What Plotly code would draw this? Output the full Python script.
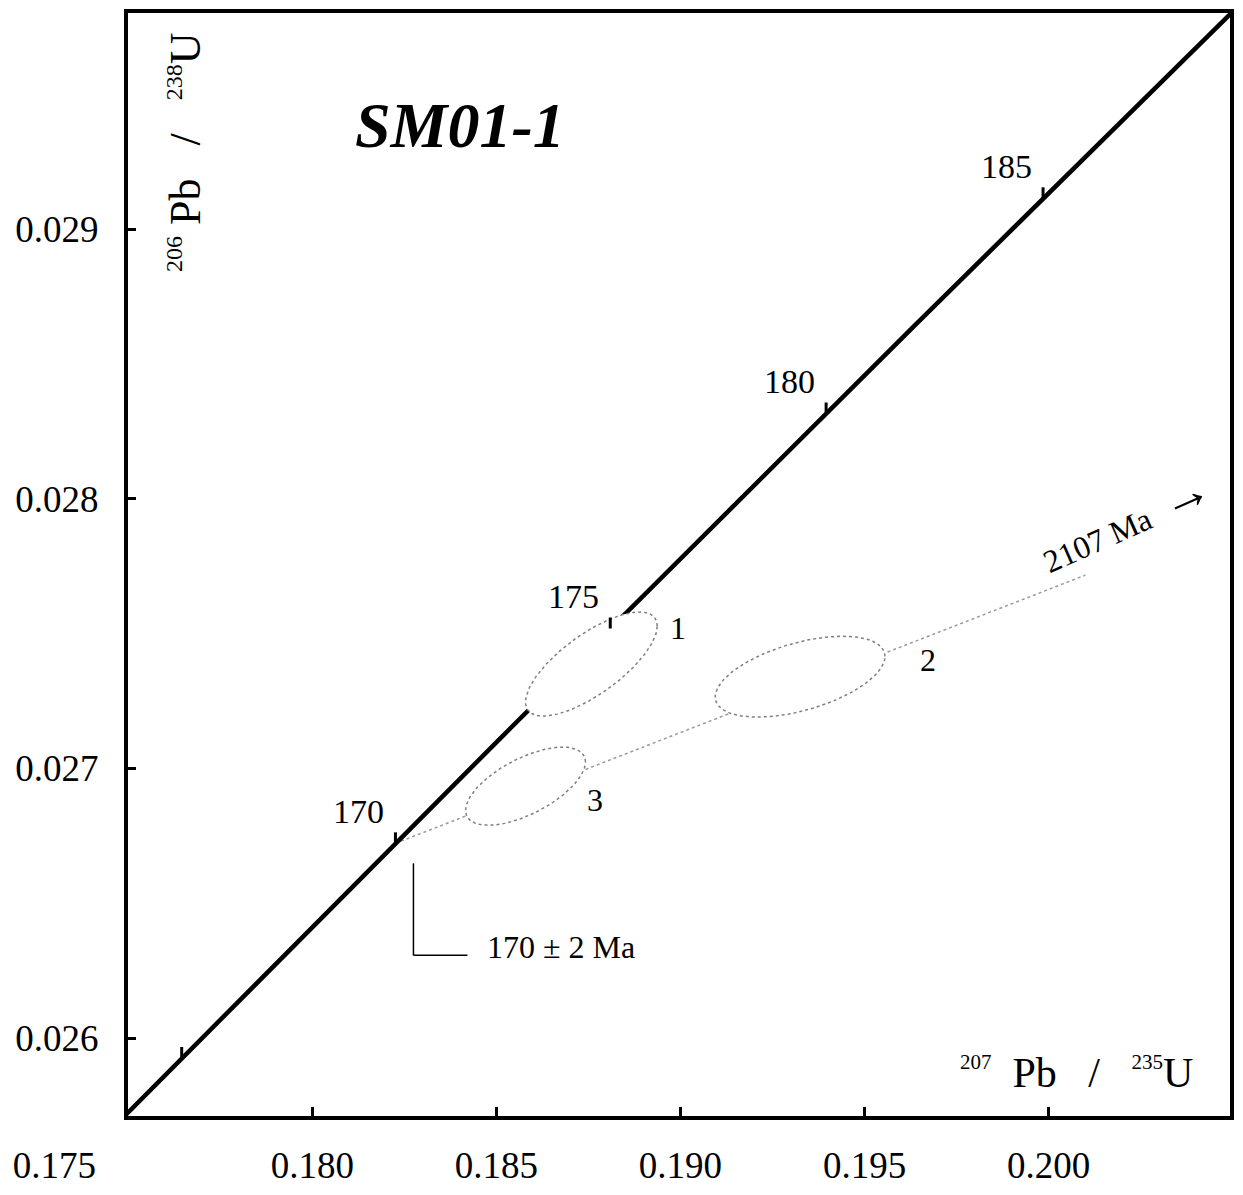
import numpy as np
import plotly.graph_objects as go

# ---------------- data ----------------
L238 = 1.55125e-10   # decay constant 238U (1/yr)
L235 = 9.8485e-10    # decay constant 235U (1/yr)

x_ticks = [0.175, 0.180, 0.185, 0.190, 0.195, 0.200]
x_tick_labels = ["0.175", "0.180", "0.185", "0.190", "0.195", "0.200"]
y_ticks = [0.026, 0.027, 0.028, 0.029]
y_tick_labels = ["0.026", "0.027", "0.028", "0.029"]

age_ticks = [165, 170, 175, 180, 185]          # Ma, marks on concordia
age_tick_labels = ["", "170", "175", "180", "185"]

ell_names = ["1", "2", "3"]
ell_x = [0.18758, 0.19325, 0.18579]            # 207Pb/235U
ell_y = [0.027387, 0.027340, 0.026934]         # 206Pb/238U
ell_sx = [0.00179, 0.002307, 0.00163]
ell_sy = [0.000193, 0.000150, 0.000145]
ell_rho = [0.73, 0.50, 0.62]

lower_age = 170     # Ma
age_err = 2         # Ma
upper_age = 2107    # Ma

# ---------------- layout constants ----------------
W, H = 1243, 1195
ML, MR, MT, MB = 120, 21, 5, 87      # page body adds ~8px offset
XR = [0.17499, 0.20493]
YR = [0.025711, 0.029801]
plot_w = W - ML - MR
plot_h = H - MT - MB
py_per_unit = plot_h / (YR[1] - YR[0])
FONT = "Liberation Serif, Times New Roman, serif"
NB = "\u00a0"


def conc(t_ma):
    t = np.asarray(t_ma, dtype=float) * 1e6
    return np.exp(L235 * t) - 1.0, np.exp(L238 * t) - 1.0


fig = go.Figure()

# discordia (lower to upper intercept), drawn toward upper intercept
x_lo, y_lo = conc(lower_age)
x_hi, y_hi = conc(upper_age)
slope = (y_hi - y_lo) / (x_hi - x_lo)
disc_end = 0.2010
fig.add_trace(go.Scatter(
    x=[float(x_lo), disc_end], y=[float(y_lo), float(y_lo + slope * (disc_end - x_lo))],
    mode="lines", line=dict(color="#9a9a9a", width=1.5, dash="dot"),
    hoverinfo="skip", showlegend=False))

# concordia curve
t_curve = np.linspace(160, 195, 400)
cx, cy = conc(t_curve)
fig.add_trace(go.Scatter(x=cx, y=cy, mode="lines",
                         line=dict(color="black", width=4.5),
                         hoverinfo="skip", showlegend=False))

# error ellipses (white filled)
tt = np.linspace(0, 2 * np.pi, 200)
for n, x0, y0, sx, sy, r in zip(ell_names, ell_x, ell_y, ell_sx, ell_sy, ell_rho):
    ex = x0 + sx * np.cos(tt)
    ey = y0 + sy * (r * np.cos(tt) + np.sqrt(1 - r * r) * np.sin(tt))
    fig.add_trace(go.Scatter(x=ex, y=ey, mode="lines", fill="toself",
                             fillcolor="white",
                             line=dict(color="#808080", width=1.5, dash="dot"),
                             hoverinfo="skip", showlegend=False))

# age ticks on concordia
TICK_PX = 11
tx, ty = [], []
ax_, ay_ = conc(age_ticks)
for a, b in zip(ax_, ay_):
    tx += [float(a), float(a), None]
    ty += [float(b), float(b) + TICK_PX / py_per_unit, None]
fig.add_trace(go.Scatter(x=tx, y=ty, mode="lines",
                         line=dict(color="black", width=3),
                         hoverinfo="skip", showlegend=False))

annotations = []
for a, b, lab in zip(ax_, ay_, age_tick_labels):
    if lab:
        annotations.append(dict(x=float(a), y=float(b), xref="x", yref="y",
                                text=lab, showarrow=False, xshift=-37, yshift=32,
                                xanchor="center", yanchor="middle",
                                font=dict(family=FONT, size=34, color="black")))

# ellipse labels
ell_label_shift = [(87, 36), (128, 17), (69, -14)]
for n, x0, y0, (dx, dy) in zip(ell_names, ell_x, ell_y, ell_label_shift):
    annotations.append(dict(x=x0, y=y0, xref="x", yref="y", text=n,
                            showarrow=False, xshift=dx, yshift=dy,
                            xanchor="center", yanchor="middle",
                            font=dict(family=FONT, size=32, color="black")))

# lower intercept label + bracket
annotations.append(dict(x=float(x_lo), y=float(y_lo), xref="x", yref="y",
                        text=f"{lower_age} \u00b1 {age_err} Ma", showarrow=False,
                        xshift=166, yshift=-104, xanchor="center", yanchor="middle",
                        font=dict(family=FONT, size=32, color="black")))
shapes = [
    dict(type="line", xref="x", yref="y", xsizemode="pixel", ysizemode="pixel",
         xanchor=float(x_lo), yanchor=float(y_lo), x0=18, x1=18, y0=-20, y1=-112,
         line=dict(color="black", width=1.5)),
    dict(type="line", xref="x", yref="y", xsizemode="pixel", ysizemode="pixel",
         xanchor=float(x_lo), yanchor=float(y_lo), x0=18, x1=72, y0=-112, y1=-112,
         line=dict(color="black", width=1.5)),
]

# upper intercept label
lab_x = 0.2021
annotations.append(dict(x=lab_x, y=float(y_lo + slope * (lab_x - x_lo)),
                        xref="x", yref="y",
                        text=f"{upper_age} Ma{NB}{NB}<span style='font-size:50px'>\u2192</span>",
                        showarrow=False, textangle=-24, yshift=38,
                        xanchor="center", yanchor="middle",
                        font=dict(family=FONT, size=32, color="black")))

# sample title
annotations.append(dict(x=0.301, y=0.898, xref="paper", yref="paper",
                        text="<b><i>SM01-1</i></b>", showarrow=False,
                        xanchor="center", yanchor="middle",
                        font=dict(family=FONT, size=64, color="black")))

# axis titles
annotations.append(dict(
    x=0.861, y=0.039, xref="paper", yref="paper", showarrow=False,
    xanchor="center", yanchor="middle",
    text=("<sup><span style='font-size:21px'>207</span></sup>" + NB * 2 + "Pb" + NB * 3 + "/"
          + NB * 3 + "<sup><span style='font-size:21px'>235</span></sup>U"),
    font=dict(family=FONT, size=42, color="black")))
annotations.append(dict(
    x=0.0526, y=0.874, xref="paper", yref="paper", showarrow=False, textangle=-90,
    xanchor="center", yanchor="middle",
    text=("<sup><span style='font-size:24px'>206</span></sup>" + NB + "Pb" + NB * 3 + "/"
          + NB * 3 + "<sup><span style='font-size:24px'>238</span></sup>U"),
    font=dict(family=FONT, size=44, color="black")))

# x tick labels: first label sits further left in the original
xt_text = list(x_tick_labels)
xt_text[0] = xt_text[0] + NB * 16

fig.update_layout(
    width=W, height=H,
    margin=dict(l=ML, r=MR, t=MT, b=MB, autoexpand=False),
    paper_bgcolor="white", plot_bgcolor="white",
    showlegend=False,
    annotations=annotations, shapes=shapes,
    xaxis=dict(range=XR, tickvals=x_ticks, ticktext=xt_text, automargin=False,
               ticks="inside", ticklen=9, tickwidth=2.5, tickcolor="black",
               showline=True, linecolor="black", linewidth=4, mirror=True,
               showgrid=False, zeroline=False, ticklabelstandoff=14,
               tickfont=dict(family=FONT, size=37, color="black")),
    yaxis=dict(range=YR, tickvals=y_ticks, ticktext=y_tick_labels, automargin=False,
               ticks="inside", ticklen=8, tickwidth=3, tickcolor="black",
               showline=True, linecolor="black", linewidth=4, mirror=True,
               showgrid=False, zeroline=False, ticklabelstandoff=18,
               tickfont=dict(family=FONT, size=37, color="black")),
)

fig.write_html("out.html")
